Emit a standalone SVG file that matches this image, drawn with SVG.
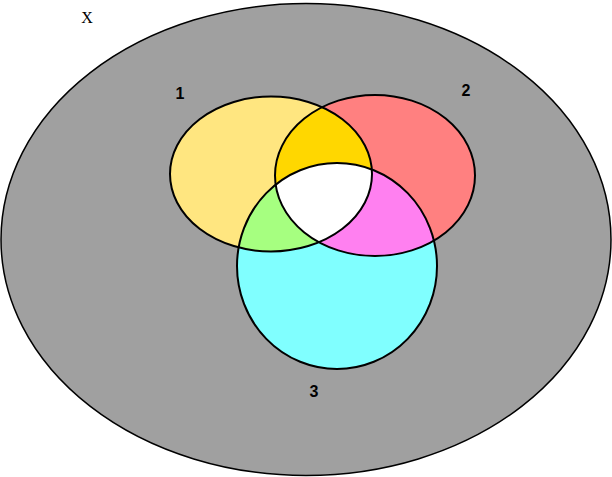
<svg xmlns="http://www.w3.org/2000/svg" width="612" height="477" viewBox="0 0 612 477">
<style>
.o{fill:none;stroke:#000;stroke-width:2}
.lbl{font-family:"Liberation Sans",Arial,sans-serif;font-size:16px;font-weight:bold;fill:#000;text-anchor:middle}
</style>
<defs>
<ellipse id="e1" cx="271" cy="174" rx="101" ry="77.5"/>
<ellipse id="e2" cx="375" cy="175.5" rx="100" ry="80.5"/>
<ellipse id="e3" cx="337" cy="266" rx="100" ry="103"/>
<clipPath id="c1"><use href="#e1"/></clipPath>
<clipPath id="c2"><use href="#e2"/></clipPath>
<clipPath id="c3"><use href="#e3"/></clipPath>
</defs>
<rect width="612" height="477" fill="#fff"/>
<g id="universe">
<ellipse cx="306" cy="239.5" rx="305" ry="236" fill="#a0a0a0" stroke="#000" stroke-width="1.5"/>
<text x="87" y="23" font-family="Liberation Serif,serif" font-size="16" text-anchor="middle">X</text>
</g>
<g id="set1"><use href="#e1" fill="#ffe680"/></g>
<g id="set2"><use href="#e2" fill="#ff8080"/></g>
<g id="set3"><use href="#e3" fill="#80ffff"/></g>
<g id="regions">
<g clip-path="url(#c1)"><use href="#e2" fill="#ffd700"/></g>
<g clip-path="url(#c1)"><use href="#e3" fill="#a6ff80"/></g>
<g clip-path="url(#c2)"><use href="#e3" fill="#ff80f0"/></g>
<g clip-path="url(#c1)"><g clip-path="url(#c2)"><use href="#e3" fill="#ffffff"/></g></g>
</g>
<g id="outlines">
<use href="#e1" class="o"/>
<use href="#e2" class="o"/>
<use href="#e3" class="o"/>
</g>
<text class="lbl" x="180" y="99">1</text>
<text class="lbl" x="466" y="96">2</text>
<text class="lbl" x="314" y="397">3</text>
</svg>
